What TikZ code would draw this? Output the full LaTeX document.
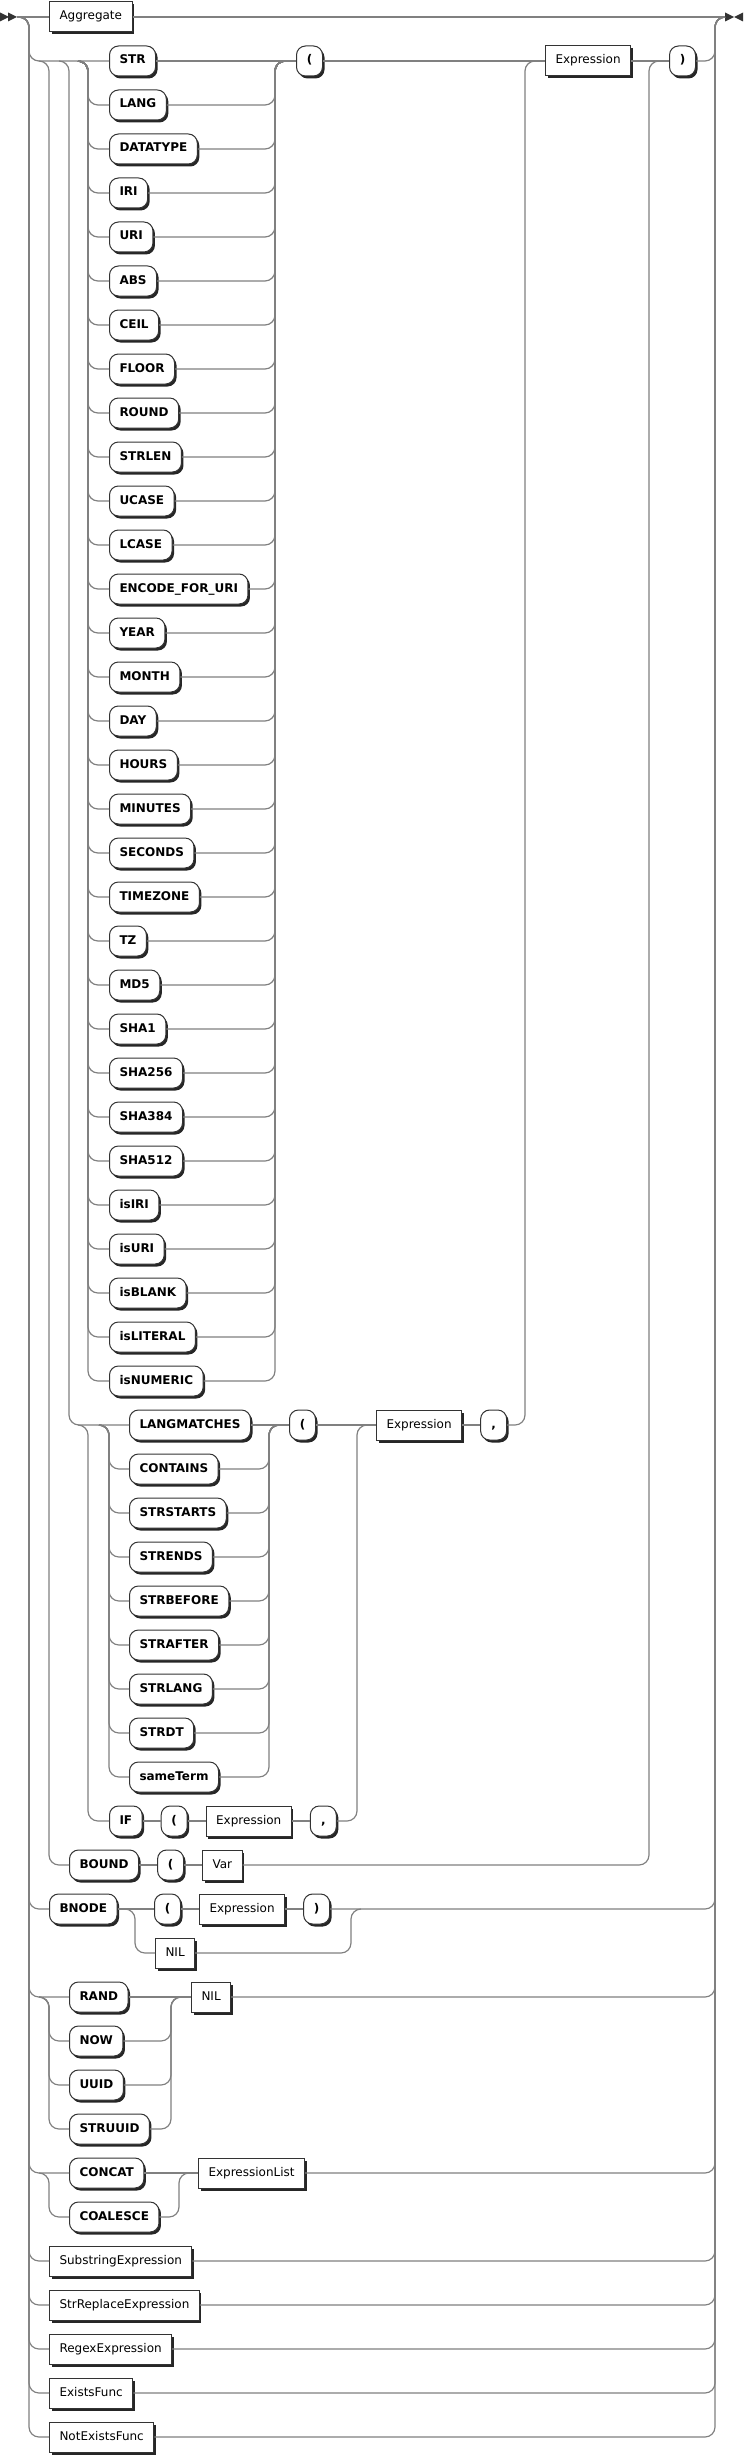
\documentclass[tikz,border=0pt]{standalone}
\usepackage{fontspec}
\setmainfont{DejaVu Sans}
\usetikzlibrary{positioning,shadows}

\definecolor{railgray}{HTML}{808080}
\definecolor{boxline}{HTML}{333333}

\tikzset{
    rail/.style={draw=railgray, line width=1.2pt, rounded corners=10pt},
    boxbase/.style={draw=boxline, fill=white, line width=1pt, minimum height=30pt,
        inner xsep=10pt, inner ysep=0pt, text height=9pt, text depth=3pt,
        font=\fontsize{12pt}{14pt}\selectfont,
        drop shadow={shadow xshift=2pt, shadow yshift=-2.5pt, fill=black!85, opacity=1}},
    terminal/.style={boxbase, rounded corners=9pt, minimum width=26pt,
        font=\fontsize{12pt}{14pt}\selectfont\bfseries},
    nonterminal/.style={boxbase},
}

\begin{document}
\begin{tikzpicture}[x=1pt, y=-1pt]
    \useasboundingbox (0,0) rectangle (744,2456);

    % begin and end markers
    \coordinate (begin) at (17,17);
    \coordinate (finish) at (725,17);
    \fill[black!80] (0,12.5) -- (9,17) -- (0,21.5) -- cycle (8,12.5) -- (17,17) -- (8,21.5) -- cycle;
    \fill[black!80] (725,12.5) -- (734,17) -- (725,21.5) -- cycle (743,12.5) -- (734,17) -- (743,21.5) -- cycle;

    % rails
    \coordinate (l0L) at (29,17);   \coordinate (l0R) at (715,17);
    \coordinate (aL) at (49,61);    \coordinate (aR) at (649,61);
    \coordinate (cL) at (69,61);    \coordinate (cR) at (525,61);
    \coordinate (dL) at (88,61);    \coordinate (dR) at (275,61);
    \coordinate (gL) at (88,1425);  \coordinate (gR) at (357,1425);
    \coordinate (eL) at (109,1425); \coordinate (eR) at (269,1425);
    \coordinate (hL) at (135,1909); \coordinate (hR) at (351,1909);
    \coordinate (iL) at (49,1997);  \coordinate (iR) at (171,1997);
    \coordinate (jL) at (49,2173);  \coordinate (jR) at (179,2173);

    \node[nonterminal, anchor=west] (agg) at (49,17) {Aggregate};

    \foreach \kw [count=\i] in {STR,LANG,DATATYPE,IRI,URI,ABS,CEIL,FLOOR,ROUND,STRLEN,UCASE,LCASE,ENCODE\_FOR\_URI,YEAR,MONTH,DAY,HOURS,MINUTES,SECONDS,TIMEZONE,TZ,MD5,SHA1,SHA256,SHA384,SHA512,isIRI,isURI,isBLANK,isLITERAL,isNUMERIC}
        \node[terminal, anchor=west] (d\i) at (109,{17+44*\i}) {\kw};
    \node[terminal, anchor=west] (lp1) at (296,61) {(};
    \node[nonterminal, anchor=west] (ex1) at (545,61) {Expression};
    \node[terminal, anchor=west] (rp1) at (669,61) {)};

    \foreach \kw [count=\i] in {LANGMATCHES,CONTAINS,STRSTARTS,STRENDS,STRBEFORE,STRAFTER,STRLANG,STRDT,sameTerm}
        \node[terminal, anchor=west] (e\i) at (129,{17+44*(31+\i)}) {\kw};
    \node[terminal, anchor=west] (lp2) at (289,1425) {(};
    \node[nonterminal, anchor=west] (ex2) at (376,1425) {Expression};
    \node[terminal, right=18pt of ex2] (comma2) {,};

    \node[terminal, anchor=west] (if) at (109,1821) {IF};
    \node[terminal, right=18pt of if] (lp5) {(};
    \node[nonterminal, right=18pt of lp5] (ex4) {Expression};
    \node[terminal, right=18pt of ex4] (comma1) {,};

    \node[terminal, anchor=west] (bound) at (69,1865) {BOUND};
    \node[terminal, right=18pt of bound] (lp4) {(};
    \node[nonterminal, right=18pt of lp4] (var) {Var};

    \node[terminal, anchor=west] (bnode) at (49,1909) {BNODE};
    \node[terminal, anchor=west] (lp3) at (154,1909) {(};
    \node[nonterminal, right=18pt of lp3] (ex3) {Expression};
    \node[terminal, right=18pt of ex3] (rp3) {)};
    \node[nonterminal, anchor=west] (nil1) at (155,1953) {NIL};

    \foreach \kw [count=\i] in {RAND,NOW,UUID,STRUUID}
        \node[terminal, anchor=west] (r\i) at (69,{17+44*(44+\i)}) {\kw};
    \node[nonterminal, anchor=west] (nil2) at (191,1997) {NIL};

    \node[terminal, anchor=west] (c1) at (69,2173) {CONCAT};
    \node[terminal, anchor=west] (c2) at (69,2217) {COALESCE};
    \node[nonterminal, anchor=west] (exlist) at (198,2173) {ExpressionList};

    \foreach \nt [count=\i] in {SubstringExpression,StrReplaceExpression,RegexExpression,ExistsFunc,NotExistsFunc}
        \node[nonterminal, anchor=west] (f\i) at (49,{17+44*(50+\i)}) {\nt};

    % main line
    \draw[rail] (begin) -- (agg.west);
    \draw[rail] (agg.east) -- (finish);
    \foreach \n in {d1,bnode,r1,c1,f1,f2,f3,f4,f5}
        \draw[rail] ([xshift=-10pt]l0L) -- (l0L) |- (\n.west);
    \foreach \n in {rp1,rp3,nil2,exlist,f1,f2,f3,f4,f5}
        \draw[rail] (\n.east) -| (l0R) -- ([xshift=10pt]l0R);

    % function calls
    \draw[rail] ([xshift=-10pt]aL) -- (aL) |- (bound.west);
    \draw[rail] (var.east) -| (aR) -- ([xshift=10pt]aR);
    \draw[rail] ([xshift=-10pt]cL) -- (cL) |- (e1.west);
    \draw[rail] (comma2.east) -| (cR) -- ([xshift=10pt]cR);
    \foreach \i in {2,...,31} {
        \draw[rail] ([xshift=-10pt]dL) -- (dL) |- (d\i.west);
        \draw[rail] (d\i.east) -| (dR) -- ([xshift=10pt]dR);
    }
    \draw[rail] (d1.east) -- (lp1.west);
    \draw[rail] (lp1.east) -- (ex1.west);
    \draw[rail] (ex1.east) -- (rp1.west);

    \draw[rail] ([xshift=-10pt]gL) -- (gL) |- (if.west);
    \draw[rail] (comma1.east) -| (gR) -- ([xshift=10pt]gR);
    \foreach \i in {2,...,9} {
        \draw[rail] ([xshift=-10pt]eL) -- (eL) |- (e\i.west);
        \draw[rail] (e\i.east) -| (eR) -- ([xshift=10pt]eR);
    }
    \draw[rail] (e1.east) -- (lp2.west);
    \draw[rail] (lp2.east) -- (ex2.west);
    \draw[rail] (ex2.east) -- (comma2.west);
    \draw[rail] (if.east) -- (lp5.west);
    \draw[rail] (lp5.east) -- (ex4.west);
    \draw[rail] (ex4.east) -- (comma1.west);
    \draw[rail] (bound.east) -- (lp4.west);
    \draw[rail] (lp4.east) -- (var.west);

    % BNODE
    \draw[rail] (bnode.east) -- (lp3.west);
    \draw[rail] (lp3.east) -- (ex3.west);
    \draw[rail] (ex3.east) -- (rp3.west);
    \draw[rail] ([xshift=-10pt]hL) -- (hL) |- (nil1.west);
    \draw[rail] (nil1.east) -| (hR) -- ([xshift=10pt]hR);

    % no-argument calls
    \foreach \i in {2,3,4} {
        \draw[rail] ([xshift=-10pt]iL) -- (iL) |- (r\i.west);
        \draw[rail] (r\i.east) -| (iR) -- ([xshift=10pt]iR);
    }
    \draw[rail] (r1.east) -- (nil2.west);

    \draw[rail] ([xshift=-10pt]jL) -- (jL) |- (c2.west);
    \draw[rail] (c2.east) -| (jR) -- ([xshift=10pt]jR);
    \draw[rail] (c1.east) -- (exlist.west);
\end{tikzpicture}
\end{document}
